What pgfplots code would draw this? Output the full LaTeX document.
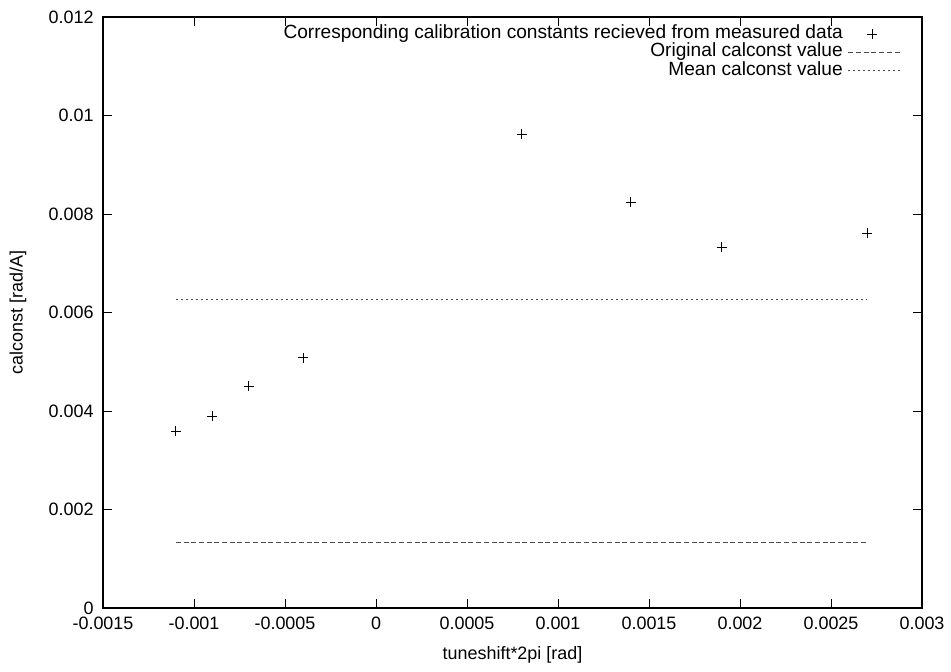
\documentclass[border=0pt]{standalone}
\usepackage{pgfplots}
\pgfplotsset{compat=1.18}
\usepackage{fontspec}
\setmainfont{Liberation Sans}
\begin{document}
\begin{tikzpicture}[x=1bp,y=1bp]
\begin{axis}[
  name=ax,
  scale only axis,
  width=819bp, height=591bp,
  xmin=-0.0015, xmax=0.003,
  ymin=0, ymax=0.012,
  xtick={-0.0015,-0.001,-0.0005,0,0.0005,0.001,0.0015,0.002,0.0025,0.003},
  xticklabels={-0.0015,-0.001,-0.0005,0,0.0005,0.001,0.0015,0.002,0.0025,0.003},
  ytick={0,0.002,0.004,0.006,0.008,0.01,0.012},
  yticklabels={0,0.002,0.004,0.006,0.008,0.01,0.012},
  tick align=inside,
  major tick length=9bp,
  tick style={black, line width=0.9bp},
  axis line style={line width=1.2bp},
  scaled ticks=false,
  xlabel={tuneshift*2pi [rad]},
  ylabel={calconst [rad/A]},
  label style={font=\fontsize{18}{20}\selectfont},
  tick label style={font=\fontsize{18}{20}\selectfont},
  xticklabel style={yshift=-5bp},
  yticklabel style={xshift=-6bp},
  xlabel style={at={(axis description cs:0.5,-0.0795)}, anchor=center},
  ylabel style={at={(axis description cs:-0.1038,0.5)}, anchor=center},
  legend plot pos=right,
  legend cell align=right,
  legend style={draw=none, fill=none, at={(axis description cs:1,1)}, anchor=north east,
    xshift=-21bp, yshift=-8bp, inner sep=0pt, row sep=0.8bp,
    nodes={inner sep=0pt, text height=13.5bp, text depth=4bp},
    font=\fontsize{19.2}{21}\selectfont},
  legend image code/.code={\path (0bp,0bp); \draw[#1] (5bp,0bp) -- (57bp,0bp);},
]
\addplot[only marks, mark=+, mark size=5bp, black, line width=0.7bp,
  legend image code/.code={\path (0bp,0bp) (57bp,0bp); \draw[black, line width=0.7bp] (29bp,-5bp)--(29bp,5bp) (24bp,0bp)--(34bp,0bp);}]
  coordinates {(-0.0011,0.00359) (-0.0009,0.00389) (-0.0007,0.00451) (-0.0004,0.00508)
  (0.0008,0.00962) (0.0014,0.00824) (0.0019,0.00733) (0.0027,0.00761)};
\addlegendentry{Corresponding calibration constants recieved from measured data}
\addplot[black!70, line width=1bp, dash pattern=on 5bp off 2.7bp]
  coordinates {(-0.0011,0.00134) (0.0027,0.00134)};
\addlegendentry{Original calconst value}
\addplot[black!70, line width=1bp, dash pattern=on 2bp off 3bp]
  coordinates {(-0.0011,0.006254) (0.0027,0.006254)};
\addlegendentry{Mean calconst value}
\end{axis}
\pgfresetboundingbox
\path[use as bounding box] ([xshift=-103bp,yshift=-63bp]ax.south west) rectangle ([xshift=29bp,yshift=17bp]ax.north east);
\end{tikzpicture}
\end{document}
